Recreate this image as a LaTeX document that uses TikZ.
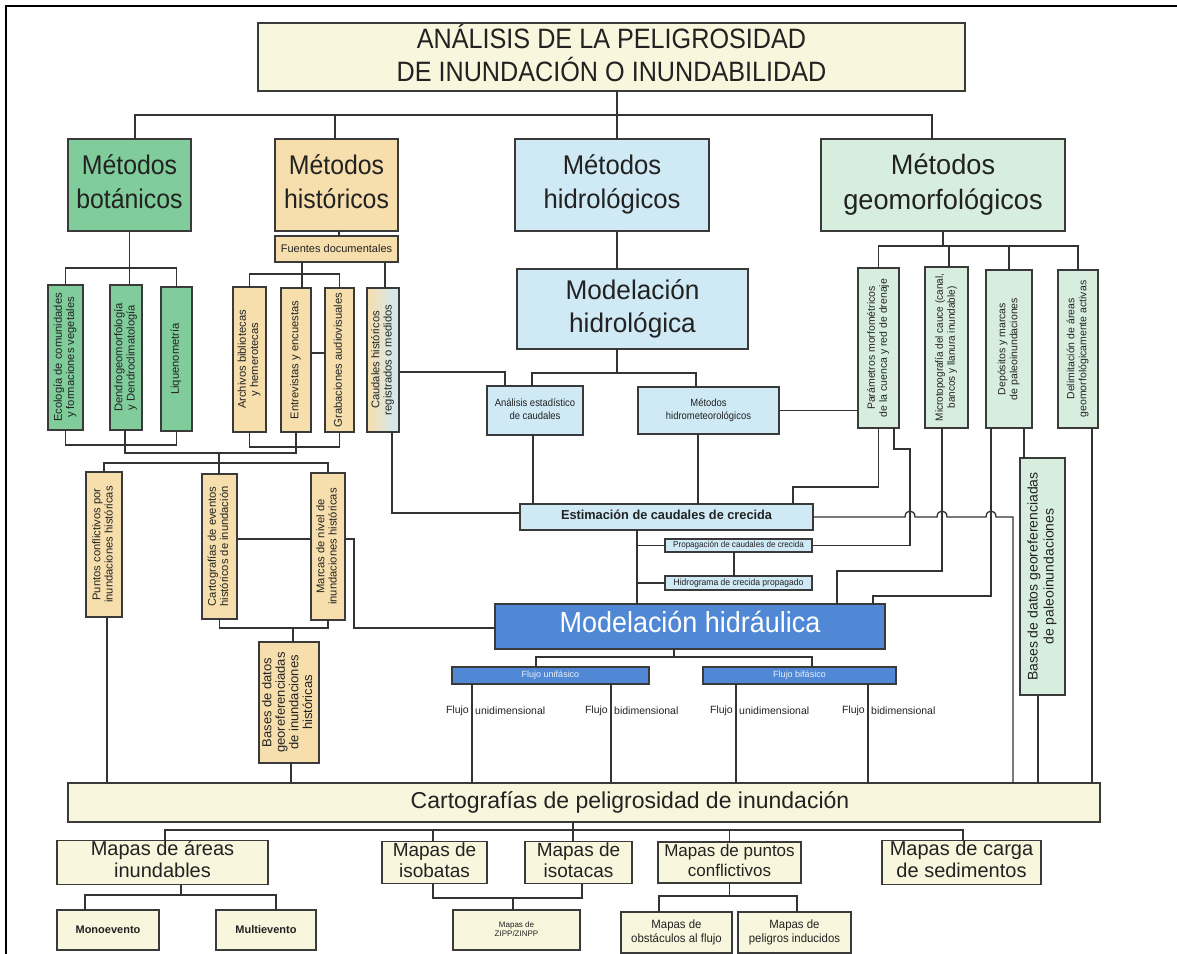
\documentclass[tikz,border=0pt]{standalone}
\usepackage{fontspec}
\setmainfont{Liberation Sans}
\usepackage{graphicx}
\definecolor{cream}{HTML}{F8F6DC}
\definecolor{botg}{HTML}{80CC9A}
\definecolor{tanc}{HTML}{F6DFAD}
\definecolor{hydb}{HTML}{CFE9F5}
\definecolor{geog}{HTML}{D7EEDF}
\definecolor{dblue}{HTML}{5088D6}
\definecolor{edgec}{HTML}{3A3A3A}
\definecolor{linec}{HTML}{333333}
\definecolor{txtc}{HTML}{222222}
\newcommand\setfs[2]{\fontsize{#1}{#2}\selectfont}
\newcommand\mycen[2]{\scalebox{#1}[1]{\begin{tabular}{@{}c@{}}#2\end{tabular}}}
\newcommand\myrot[2]{\rotatebox{90}{\scalebox{#1}[1]{\begin{tabular}{@{}c@{}}#2\end{tabular}}}}
% box from (x1,y1) to (x2,y2): name, x1, y1, x2, y2, style, text
\newcommand\mkbox[7]{\node[box,#6,minimum width={(#4)-(#2)},minimum height={(#5)-(#3)}] (#1) at ({((#2)+(#4))/2},{((#3)+(#5))/2}) {#7};}
\begin{document}
\begin{tikzpicture}[x=1pt,y=-1pt,
  box/.style={draw=edgec, line width=1.5pt, inner sep=0pt, outer sep=0pt, align=center, text=txtc},
  link/.style={draw=linec, line width=1.3pt},
  vsmall/.style={font=\setfs{10.5}{12}},
  vmid/.style={font=\setfs{11.2}{12.2}},
  lab/.style={inner sep=0pt, text=txtc, font=\setfs{10.5}{12}}]
\useasboundingbox (0,0) rectangle (1177,953);
\clip (0,0) rectangle (1177,953);

% ---- main levels
\mkbox{Title}{258}{23}{965}{91}{fill=cream,font=\setfs{28}{29}}{\mycen{0.9}{ANÁLISIS DE LA PELIGROSIDAD\\DE INUNDACIÓN O INUNDABILIDAD}}
\mkbox{Bot}{68}{139}{191}{231}{fill=botg,font=\setfs{27}{34}}{\mycen{0.92}{Métodos\\botánicos}}
\mkbox{His}{275}{139}{398}{231}{fill=tanc,font=\setfs{27}{34}}{\mycen{0.92}{Métodos\\históricos}}
\mkbox{Hyd}{515}{139}{709}{231}{fill=hydb,font=\setfs{27}{34}}{\mycen{0.95}{Métodos\\hidrológicos}}
\mkbox{Geo}{821}{139}{1065}{231}{fill=geog,font=\setfs{28}{35}}{\mycen{0.97}{Métodos\\geomorfológicos}}
\mkbox{Fue}{275}{236}{398}{262}{fill=tanc,font=\setfs{11}{12}}{Fuentes documentales}

% ---- botanical methods
\mkbox{Eco}{48}{285}{83}{430}{fill=botg,vmid}{\myrot{1}{Ecología de comunidades\\y formaciones vegetales}}
\mkbox{Den}{110}{285}{142}{430}{fill=botg,vmid}{\myrot{1}{Dendrogeomorfología\\y Dendroclimatología}}
\mkbox{Liq}{161}{287}{192}{431}{fill=botg,vmid}{\myrot{1}{Liquenometría}}

% ---- historical methods
\mkbox{Arc}{233}{287}{266}{432}{fill=tanc,vmid}{\myrot{1}{Archivos bibliotecas\\y hemerotecas}}
\mkbox{Ent}{281}{288}{311}{432}{fill=tanc,vmid}{\myrot{1}{Entrevistas y encuestas}}
\mkbox{Gra}{325}{288}{354}{432}{fill=tanc,vmid}{\myrot{1}{Grabaciones audiovisuales}}
\mkbox{Cau}{367}{288}{399}{432}{left color=tanc,right color=hydb,vmid}{\myrot{1}{Caudales históricos\\registrados o medidos}}
\mkbox{Pun}{86}{472}{122}{617}{fill=tanc,vmid}{\myrot{1}{Puntos conflictivos por\\inundaciones históricas}}
\mkbox{CarE}{202}{474}{237}{619}{fill=tanc,vmid}{\myrot{1}{Cartografías de eventos\\históricos de inundación}}
\mkbox{Mar}{311}{473}{345}{620}{fill=tanc,vmid}{\myrot{1}{Marcas de nivel de\\inundaciones históricas}}
\mkbox{BasH}{259}{642}{319}{763}{fill=tanc,font=\setfs{13}{13.5}}{\myrot{1}{Bases de datos\\georeferenciadas\\de inundaciones\\históricas}}

% ---- hydrological methods
\mkbox{ModH}{517}{269}{748}{349}{fill=hydb,font=\setfs{27}{33}}{\mycen{0.97}{Modelación\\hidrológica}}
\mkbox{Ana}{487}{386}{583}{435}{fill=hydb,font=\setfs{10.5}{12.5}}{\mycen{0.9}{Análisis estadístico\\de caudales}}
\mkbox{Met}{638}{387}{779}{434}{fill=hydb,font=\setfs{10.5}{12.5}}{\mycen{0.9}{Métodos\\hidrometeorológicos}}
\mkbox{Est}{520}{504}{813}{530}{fill=hydb,font=\setfs{13}{14}\bfseries}{\mycen{0.98}{Estimación de caudales de crecida}}
\mkbox{Pro}{665}{539}{812}{552}{fill=hydb,font=\setfs{8.5}{9}}{\mycen{0.95}{Propagación de caudales de crecida}}
\mkbox{Hid}{665}{576}{812}{590}{fill=hydb,font=\setfs{9}{10}}{\mycen{0.95}{Hidrograma de crecida propagado}}

% ---- geomorphological methods
\mkbox{Par}{858}{268}{899}{428}{fill=geog,vsmall}{\myrot{1}{Parámetros morfométricos\\de la cuenca y red de drenaje}}
\mkbox{Mic}{925}{267}{968}{428}{fill=geog,vsmall}{\myrot{0.95}{Microtopografía del cauce (canal,\\bancos y llanura inundable)}}
\mkbox{Dep}{986}{270}{1032}{428}{fill=geog,vsmall}{\myrot{1}{Depósitos y marcas\\de paleoinundaciones}}
\mkbox{Del}{1058}{270}{1098}{428}{fill=geog,vsmall}{\myrot{1}{Delimitación de áreas\\geomorfológicamente activas}}
\mkbox{BasP}{1020}{458}{1065}{695}{fill=geog,font=\setfs{14}{16}}{\myrot{1}{Bases de datos georeferenciadas\\de paleoinundaciones}}

% ---- hydraulic modelling
\mkbox{Hyd2}{495}{604}{885}{649}{fill=dblue,text=white,font=\setfs{29}{30}}{\mycen{0.93}{Modelación hidráulica}}
\mkbox{Uni}{452}{667}{649}{684}{fill=dblue,text=white!88!dblue,font=\setfs{9}{10}}{Flujo unifásico}
\mkbox{Bif}{703}{667}{896}{684}{fill=dblue,text=white!88!dblue,font=\setfs{9}{10}}{Flujo bifásico}

% ---- hazard maps
\mkbox{Carto}{68}{783}{1100}{822}{fill=cream,font=\setfs{23}{24}}{\hspace*{92pt}Cartografías de peligrosidad de inundación}
\mkbox{Are}{57}{842}{268}{883}{fill=cream,font=\setfs{20}{22}}{\mycen{1}{Mapas de áreas\\inundables}}
\mkbox{Iso}{382}{842}{487}{883}{fill=cream,font=\setfs{19}{21}}{\mycen{1}{Mapas de\\isobatas}}
\mkbox{Isot}{525}{842}{632}{883}{fill=cream,font=\setfs{19}{21}}{\mycen{1}{Mapas de\\isotacas}}
\mkbox{Pts}{658}{842}{801}{883}{fill=cream,font=\setfs{17}{20}}{\mycen{1}{Mapas de puntos\\conflictivos}}
\mkbox{Car}{882}{842}{1041}{883}{fill=cream,font=\setfs{20}{22}}{\mycen{1}{Mapas de carga\\de sedimentos}}
\mkbox{Mono}{57}{910}{159}{950}{fill=cream,font=\setfs{11}{12}\bfseries}{Monoevento}
\mkbox{Multi}{216}{910}{316}{950}{fill=cream,font=\setfs{11}{12}\bfseries}{Multievento}
\mkbox{ZIPP}{453}{910}{580}{950}{fill=cream,font=\setfs{8}{9}}{\mycen{1}{Mapas de\\ZIPP/ZINPP}}
\mkbox{Obs}{621}{912}{732}{953}{fill=cream,font=\setfs{12}{14}}{\mycen{0.95}{Mapas de\\obstáculos al flujo}}
\mkbox{Pel}{738}{912}{851}{953}{fill=cream,font=\setfs{12}{14}}{\mycen{0.95}{Mapas de\\peligros inducidos}}

% ================= connectors
% top level
\coordinate (topbus) at (0,115);
\draw[link] ([xshift=5.5pt]Title.south) -- ([xshift=5pt]Hyd.north);
\draw[link] ([xshift=5.5pt]Bot.north) |- ([xshift=-11pt]Geo.north |- topbus) -- ([xshift=-11pt]Geo.north);
\draw[link] ([xshift=-1.5pt]His.north) -- ([xshift=-1.5pt]His.north |- topbus);

% botanical
\coordinate (bbus) at (0,268);
\coordinate (bb1) at (0,445);
\coordinate (bb2) at (0,453);
\draw[link] (Bot.south) -- (Bot.south |- Den.north);
\draw[link] (Eco.north) |- (Liq.north |- bbus) -- (Liq.north);
\draw[link] (Eco.south) |- (Liq.south |- bb1) -- (Liq.south);
\draw[link] ([xshift=-1pt]Den.south) |- (Ent.south |- bb2) -- (Ent.south);

% historical
\coordinate (fbus) at (0,274);
\coordinate (hb3) at (0,447);
\coordinate (jn) at (219,453);
\coordinate (hbus) at (0,463);
\coordinate (cb) at (0,628);
\coordinate (mk) at (354,539);
\draw[link] ([xshift=2.5pt]His.south) -- ([xshift=2.5pt]His.south |- Fue.north);
\draw[link] ([xshift=-34.5pt]Fue.south) -- ([xshift=-34.5pt]Fue.south |- Ent.north);
\draw[link] (Arc.north) |- (Gra.north |- fbus) -- (Gra.north);
\draw[link] ([xshift=48.5pt]Fue.south) -- ([xshift=48.5pt]Fue.south |- Cau.north);
\draw[link] ([yshift=7pt]Ent.east) -- ([yshift=7pt]Ent.east -| Gra.west);
\draw[link] (Arc.south) |- (Gra.south |- hb3) -- (Gra.south);
\draw[link] (jn) -- (jn |- CarE.north);
\draw[link] (Pun.north) |- (Mar.north |- hbus) -- (Mar.north);
\draw[link] ([yshift=7.5pt]CarE.east) -- ([yshift=7.5pt]CarE.east -| Mar.west);
\draw[link] ([yshift=7.5pt]Mar.east) -- (mk) |- ([yshift=-1.5pt]Hyd2.west);
\draw[link] (CarE.south) |- (Mar.south |- cb) -- (Mar.south);
\draw[link] ([xshift=4pt]BasH.north |- cb) -- ([xshift=4pt]BasH.north);
\draw[link] ([xshift=2pt]BasH.south) -- ([xshift=2pt]BasH.south |- Carto.north);
\draw[link] ([xshift=3pt]Pun.south) -- ([xshift=3pt]Pun.south |- Carto.north);
\draw[link] ([yshift=-12pt]Cau.east) -| ([xshift=-30pt]Ana.north);
\draw[link] ([xshift=9pt]Cau.south) |- ([yshift=4pt]Est.west);

% hydrological
\coordinate (mbus) at (0,373);
\draw[link] ([xshift=5pt]Hyd.south) -- ([xshift=5pt]Hyd.south |- ModH.north);
\draw[link] ([xshift=5pt]Hyd.south |- ModH.south) -- ([xshift=5pt]Hyd.south |- mbus);
\draw[link] ([xshift=-3pt]Ana.north) |- ([xshift=-12.5pt]Met.north |- mbus) -- ([xshift=-12.5pt]Met.north);
\draw[link] (Met.east) -- (Met.east -| Par.west);
\draw[link] ([xshift=-2pt]Ana.south) -- ([xshift=-2pt]Ana.south |- Est.north);
\draw[link] ([xshift=-10.5pt]Met.south) -- ([xshift=-10.5pt]Met.south |- Est.north);

% geomorphological
\coordinate (gbus) at (0,246);
\coordinate (pb) at (0,487);
\coordinate (pk) at (910,449);
\coordinate (mc) at (0,571);
\coordinate (dc) at (0,596);
\coordinate (hp) at (1013,517);
\draw[link] (Geo.south) -- (Geo.south |- gbus);
\draw[link] (Par.north) |- (Del.north |- gbus) -- (Del.north);
\draw[link] ([xshift=2.5pt]Mic.north) -- ([xshift=2.5pt]Mic.north |- gbus);
\draw[link] (Dep.north) -- (Dep.north |- gbus);
\draw[link] (Par.south) |- ([xshift=126.5pt]Est.north |- pb) -- ([xshift=126.5pt]Est.north);
\draw[link] ([xshift=15.5pt]Par.south) |- (pk) |- (Pro.east);
\draw[link] ([xshift=-4.5pt]Mic.south) |- ([xshift=147pt]Hyd2.north |- mc) -- ([xshift=147pt]Hyd2.north);
\draw[link] ([xshift=-18pt]Dep.south) |- ([xshift=183pt]Hyd2.north |- dc) -- ([xshift=183pt]Hyd2.north);
\draw[link] ([xshift=15pt]Dep.south) -- ([xshift=15pt]Dep.south |- BasP.north);
\draw[link] ([xshift=-4.5pt]BasP.south) -- ([xshift=-4.5pt]BasP.south |- Carto.north);
\draw[link] ([xshift=14pt]Del.south) -- ([xshift=14pt]Del.south |- Carto.north);
% flood estimate line hopping over the vertical links
\draw[link] (Est.east) -- (905,517) .. controls (905,509) and (915,509) .. (915,517)
  -- (937,517) .. controls (937,509) and (947,509) .. (947,517)
  -- (986,517) .. controls (986,509) and (996,509) .. (996,517)
  -- (hp) -- (hp |- Carto.north);

% hydraulic
\coordinate (ev) at (637,0);
\coordinate (ubus) at (0,657);
\coordinate (labrow) at (0,711);
\draw[link] (Est.south -| ev) -- (Hyd2.north -| ev);
\draw[link] (Pro.west) -- (Pro.west -| ev);
\draw[link] (Hid.west) -- (Hid.west -| ev);
\draw[link] ([xshift=-4.5pt]Pro.south) -- ([xshift=-4.5pt]Pro.south |- Hid.north);
\draw[link] ([xshift=-16pt]Hyd2.south) -- ([xshift=-16pt]Hyd2.south |- ubus);
\draw[link] ([xshift=-14.5pt]Uni.north) |- ([xshift=12.5pt]Bif.north |- ubus) -- ([xshift=12.5pt]Bif.north);
\coordinate (f1) at ([xshift=-78.5pt]Uni.south);
\coordinate (f2) at ([xshift=60.5pt]Uni.south);
\coordinate (f3) at ([xshift=-63.5pt]Bif.south);
\coordinate (f4) at ([xshift=68.5pt]Bif.south);
\foreach \f/\w in {f1/unidimensional, f2/bidimensional, f3/unidimensional, f4/bidimensional}{
  \draw[link] (\f) -- (\f |- Carto.north);
  \node[lab, anchor=east] (\f a) at ([xshift=-3pt]\f |- labrow) {Flujo};
  \node[lab, anchor=west] (\f b) at ([xshift=3pt]\f |- labrow) {\w};
}

% hazard maps
\coordinate (cbus) at (0,830);
\coordinate (abus) at (0,895);
\coordinate (ibus) at (0,898);
\coordinate (pbus2) at (0,896);
\draw[link] ([xshift=-11pt]Carto.south) -- ([xshift=-5.5pt]Isot.north);
\draw[link] ([xshift=2.5pt]Are.north) |- ([xshift=1.5pt]Car.north |- cbus) -- ([xshift=1.5pt]Car.north);
\draw[link] ([xshift=-1.5pt]Iso.north) -- ([xshift=-1.5pt]Iso.north |- cbus);
\draw[link] (Pts.north) -- (Pts.north |- cbus);
\draw[link] ([xshift=18.5pt]Are.south) -- ([xshift=18.5pt]Are.south |- abus);
\draw[link] ([xshift=-23pt]Mono.north) |- ([xshift=10pt]Multi.north |- abus) -- ([xshift=10pt]Multi.north);
\draw[link] ([xshift=-1.5pt]Iso.south) |- ([xshift=3.5pt]Isot.south |- ibus) -- ([xshift=3.5pt]Isot.south);
\draw[link] ([xshift=-3.5pt]ZIPP.north |- ibus) -- ([xshift=-3.5pt]ZIPP.north);
\draw[link] (Pts.south) -- (Pts.south |- pbus2);
\draw[link] ([xshift=-17.5pt]Obs.north) |- ([xshift=2.5pt]Pel.north |- pbus2) -- ([xshift=2.5pt]Pel.north);

% frame
\draw[line width=2pt, black] (6,960) -- (6,6) -- (1190,6);
\end{tikzpicture}
\end{document}
